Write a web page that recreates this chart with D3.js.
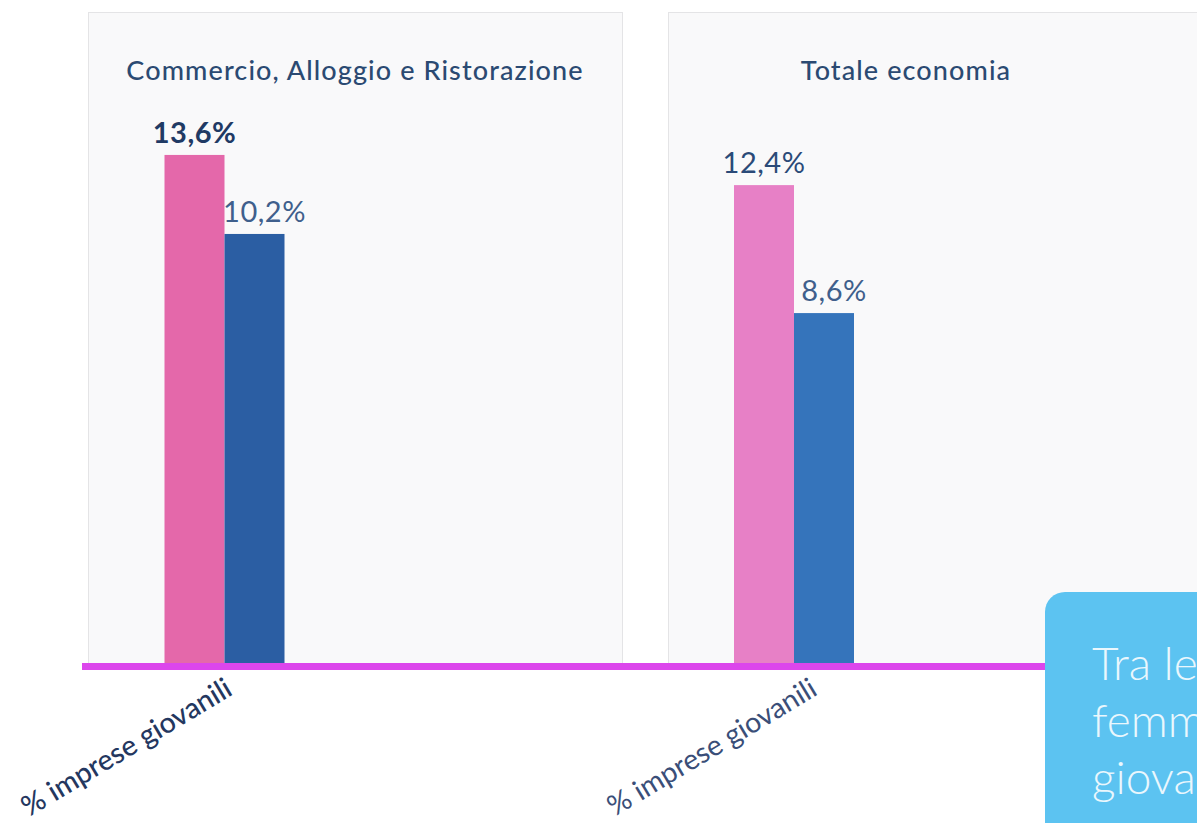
<!DOCTYPE html>
<html>
<head>
<meta charset="utf-8">
<script src="https://cdn.jsdelivr.net/npm/d3@7"></script>
<style>
  html, body { margin: 0; padding: 0; background: #ffffff; overflow: hidden; }
  svg { display: block; }
</style>
</head>
<body>
<svg id="chart" width="1197" height="823"></svg>
<script>
// ---------- DATA ----------
const categories = ["Commercio, Alloggio e Ristorazione", "Totale economia"];
const seriesKeys = ["femminili", "non femminili"];
const valuesFemminili = [13.6, 12.4];
const valuesNonFemminili = [10.2, 8.6];
const axisLabels = ["% imprese giovanili", "% imprese giovanili"];
const calloutLines = ["Tra le", "femminili", "giovanili"];

// ---------- LAYOUT ----------
const baseY = 663, topY = 12;
const panels = [
  { x0: 88, x1: 622, titleX: 355, domain: [-8.26, 19.75],
    colors: ["#e468aa", "#2b5ea3"], labelDx: 9.5, labelColor: "#24375f", labelWeight: 500 },
  { x0: 668, x1: 1260, titleX: 906, domain: [-1.79, 17.54],
    colors: ["#e780c6", "#3574bb"], labelDx: 25, labelColor: "#3a4e78", labelWeight: 400 }
];
const series = [valuesFemminili, valuesNonFemminili];

const itLocale = d3.formatLocale({ decimal: ",", thousands: ".", grouping: [3], currency: ["", "€"] });
const fmt = v => itLocale.format(".1f")(v) + "%";

const svg = d3.select("#chart");
const font = "Lato, 'Open Sans', sans-serif";

// panels
panels.forEach((p, i) => {
  svg.append("rect")
    .attr("x", p.x0 + 0.5).attr("y", topY + 0.5)
    .attr("width", p.x1 - p.x0).attr("height", baseY - topY)
    .attr("fill", "#f9f9fa").attr("stroke", "#e4e4e6").attr("stroke-width", 1);
  svg.append("text")
    .attr("x", p.titleX).attr("y", 80)
    .attr("text-anchor", "middle")
    .attr("font-family", font).attr("font-size", 27).attr("font-weight", 500)
    .attr("letter-spacing", 1.1)
    .attr("fill", "#2b4a72")
    .text(categories[i]);
});

const xGroup = d3.scalePoint().domain(categories).range([224.5, 794]);
const xSeries = d3.scaleBand().domain(seriesKeys).range([-60, 60]).padding(0);

categories.forEach((c, i) => {
  const p = panels[i];
  const y = d3.scaleLinear().domain(p.domain).range([baseY, topY]);
  const g = svg.append("g").attr("transform", `translate(${xGroup(c)},0)`);
  seriesKeys.forEach((k, s) => {
    const v = series[s][i];
    g.append("rect")
      .attr("x", xSeries(k))
      .attr("y", y(v))
      .attr("width", xSeries.bandwidth())
      .attr("height", baseY - y(v))
      .attr("fill", p.colors[s]);
    g.append("text")
      .attr("x", xSeries(k) + xSeries.bandwidth() / 2 + (s === 1 ? 10 : 0))
      .attr("y", y(v) - 12)
      .attr("text-anchor", "middle")
      .attr("font-family", font)
      .attr("font-size", 29)
      .attr("letter-spacing", 0.5)
      .attr("font-weight", (i === 0 && s === 0) ? 700 : 400)
      .attr("fill", s === 0 ? (i === 0 ? "#1f3a64" : "#2a4a78") : "#3f5f8c")
      .text(fmt(v));
  });
  // rotated category label
  const lx = xGroup(c) + p.labelDx, ly = 694;
  svg.append("text")
    .attr("transform", `translate(${lx},${ly}) rotate(-31)`)
    .attr("text-anchor", "end")
    .attr("font-family", font)
    .attr("font-size", 28.5)
    .attr("font-weight", p.labelWeight)
    .attr("fill", p.labelColor)
    .text(axisLabels[i]);
});

// axis line
svg.append("line")
  .attr("x1", 82).attr("x2", 1100)
  .attr("y1", 666.5).attr("y2", 666.5)
  .attr("stroke", "#dc46ec").attr("stroke-width", 7);

// callout box
const box = svg.append("g");
box.append("rect")
  .attr("x", 1045).attr("y", 592)
  .attr("width", 260).attr("height", 300)
  .attr("rx", 20).attr("ry", 20)
  .attr("fill", "#5cc3f1");
calloutLines.forEach((t, i) => {
  box.append("text")
    .attr("x", 1092).attr("y", 680 + i * 57)
    .attr("font-family", font).attr("font-size", 46).attr("font-weight", 300)
    .attr("fill", "#eaf7fd")
    .text(t);
});
</script>
</body>
</html>
